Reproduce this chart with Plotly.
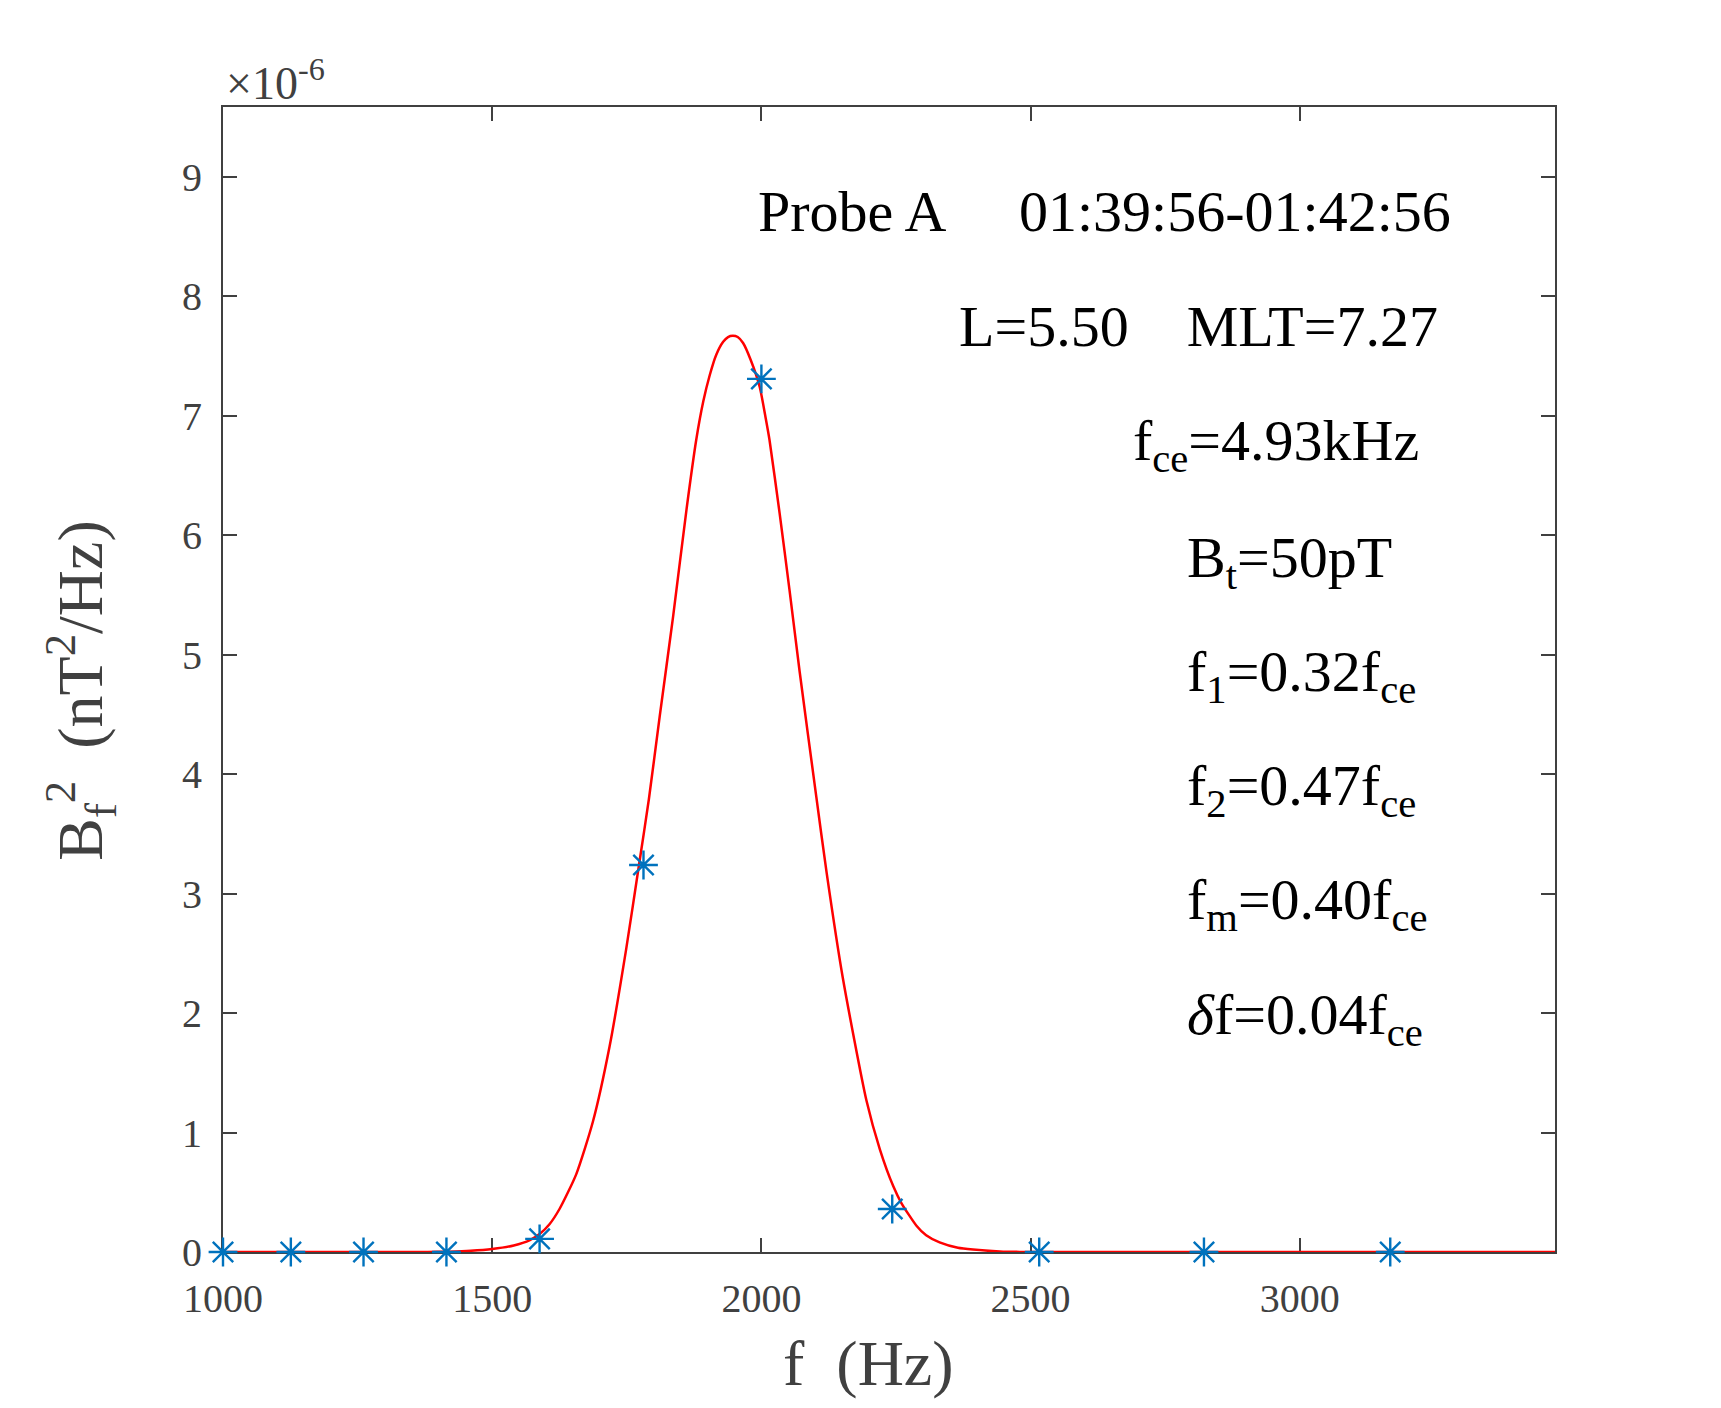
"""B_f^2 spectrum with Gaussian fit, Probe A."""

import plotly.graph_objects as go

# measured spectrum (values in units of 1e-6 nT^2/Hz)
freq_hz = [1000, 1126, 1261, 1415, 1588, 1781, 2000, 2243, 2516, 2822, 3168]
bf2 = [0.0, 0.0, 0.0, 0.0, 0.11, 3.24, 7.31, 0.36, 0.0, 0.0, 0.0]

# fitted curve
fit_hz = [1000, 1200, 1380, 1420, 1460, 1500, 1540, 1570, 1588, 1606, 1625,
          1656, 1687, 1718, 1749, 1773, 1791, 1811, 1836, 1861, 1879, 1892,
          1904, 1916, 1929, 1938, 1947, 1956, 1966, 1980, 1997, 2008, 2015,
          2034, 2052, 2071, 2102, 2121, 2151, 2195, 2220, 2245, 2260, 2288,
          2306, 2331, 2365, 2393, 2443, 2480, 2520, 2700, 3000, 3474]
fit_val = [0.0, 0.0, 0.0, 0.003, 0.01, 0.025, 0.055, 0.10, 0.15, 0.23, 0.36,
           0.65, 1.09, 1.72, 2.54, 3.25, 3.79, 4.48, 5.32, 6.22, 6.80, 7.12,
           7.34, 7.51, 7.62, 7.66, 7.67, 7.66, 7.61, 7.47, 7.24, 6.98, 6.80,
           6.18, 5.55, 4.86, 3.81, 3.18, 2.30, 1.27, 0.86, 0.55, 0.41, 0.22,
           0.14, 0.08, 0.035, 0.02, 0.005, 0.001, 0.0, 0.0, 0.0, 0.0]

x_ticks = [1000, 1500, 2000, 2500, 3000]
y_ticks = [0, 1, 2, 3, 4, 5, 6, 7, 8, 9]

info_lines = [
    'Probe A\u00a0\u00a0\u00a0\u00a0\u00a001:39:56-01:42:56',
    'L=5.50\u00a0\u00a0\u00a0\u00a0MLT=7.27',
    'f<sub>ce</sub>=4.93kHz',
    'B<sub>t</sub>=50pT',
    'f<sub>1</sub>=0.32f<sub>ce</sub>',
    'f<sub>2</sub>=0.47f<sub>ce</sub>',
    'f<sub>m</sub>=0.40f<sub>ce</sub>',
    '<i>\u03b4</i>f=0.04f<sub>ce</sub>',
]

FONT = 'Liberation Serif, Times New Roman, serif'
AXIS_COLOR = '#404040'
W, H = 1721, 1408
# plot box on the page (pixels); the page body adds an 8px offset
BOX_L, BOX_R, BOX_T, BOX_B = 223, 1555, 107, 1252.5
PAGE_PAD = 8

def to_paper(px, py):
    return (px - BOX_L) / (BOX_R - BOX_L), (BOX_B - py) / (BOX_B - BOX_T)

# left edge and text-top (pixels) of each info line
info_pos = [(756, 177), (957, 292), (1131, 406), (1185, 523),
            (1185, 637), (1185, 751), (1185, 865), (1185, 980)]

annotations = []
for text, (px, py) in zip(info_lines, info_pos):
    x, y = to_paper(px, py)
    annotations.append(dict(
        text=text, x=x, y=y, xref='paper', yref='paper',
        xanchor='left', yanchor='top', showarrow=False,
        font=dict(family=FONT, size=58, color='black')
    ))

# axis titles and exponent label
x, y = to_paper(868, 1364)
annotations.append(dict(
    text='f\u00a0\u00a0(Hz)', x=x, y=y, xref='paper', yref='paper',
    xanchor='center', yanchor='middle', showarrow=False,
    font=dict(family=FONT, size=64, color=AXIS_COLOR)
))
x, y = to_paper(80, 691)
annotations.append(dict(
    text='B<sub>f</sub><sup>2</sup>\u00a0\u00a0(nT<sup>2</sup>/Hz)',
    x=x, y=y, xref='paper', yref='paper', textangle=-90,
    xanchor='center', yanchor='middle', showarrow=False,
    font=dict(family=FONT, size=64, color=AXIS_COLOR)
))
x, y = to_paper(224, 111)
annotations.append(dict(
    text='\u00d710<sup>-6</sup>', x=x, y=y, xref='paper', yref='paper',
    xanchor='left', yanchor='bottom', showarrow=False,
    font=dict(family=FONT, size=46, color=AXIS_COLOR)
))

axis_style = dict(
    showline=True, linewidth=2, linecolor=AXIS_COLOR, mirror='ticks',
    ticks='inside', ticklen=14, tickwidth=2, tickcolor=AXIS_COLOR,
    showgrid=False, zeroline=False, layer='below traces',
    tickfont=dict(family=FONT, size=40, color=AXIS_COLOR)
)

fig = go.Figure(
    data=[
        go.Scatter(x=fit_hz, y=fit_val, mode='lines',
                   line=dict(color='red', width=2.5, shape='spline', smoothing=0.6),
                   showlegend=False),
        go.Scatter(x=freq_hz, y=bf2, mode='markers',
                   marker=dict(symbol='asterisk-open', size=24, color='#0072BD',
                               line=dict(color='#0072BD', width=2.4)),
                   cliponaxis=False, showlegend=False),
    ],
    layout={
        'width': W,
        'height': H,
        'margin': dict(l=BOX_L - PAGE_PAD, r=W - BOX_R + PAGE_PAD,
                       t=BOX_T - PAGE_PAD, b=H - BOX_B + PAGE_PAD),
        'paper_bgcolor': 'white',
        'plot_bgcolor': 'white',
        'xaxis': dict(range=[1000, 3474], tickvals=x_ticks,
                      ticklabelstandoff=10, **axis_style),
        'yaxis': dict(range=[0, 9.586], tickvals=y_ticks,
                      ticklabelstandoff=11, **axis_style),
        'annotations': annotations,
    }
)
fig.write_html('out.html')
